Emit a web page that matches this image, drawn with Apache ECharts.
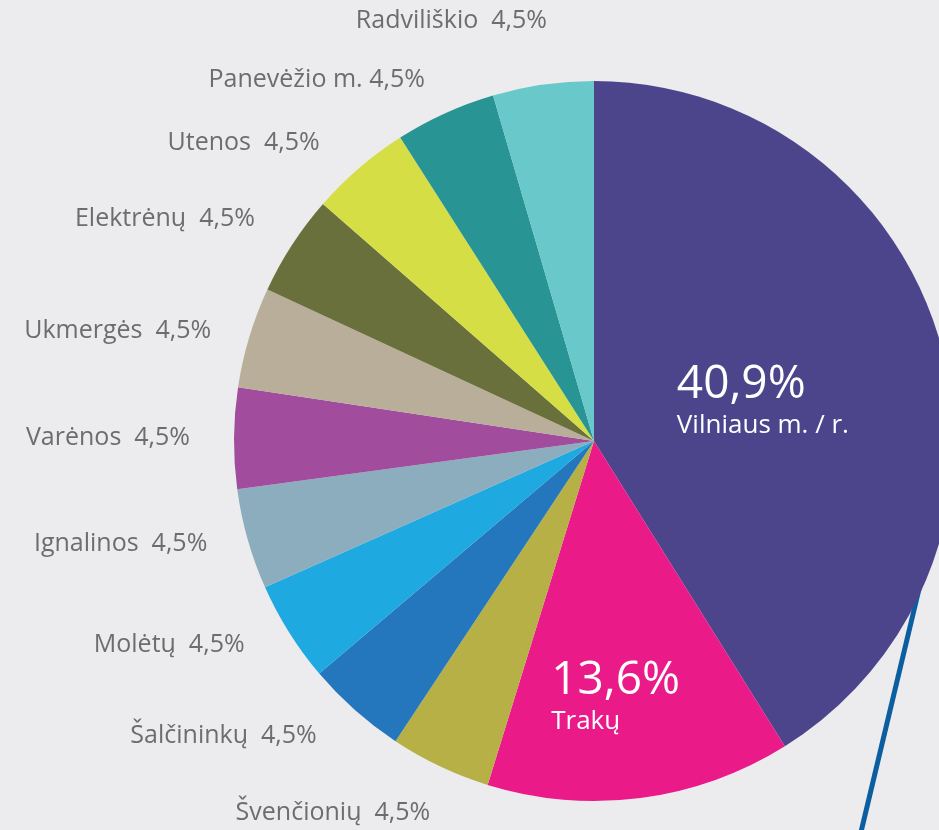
<!DOCTYPE html>
<html>
<head>
<meta charset="utf-8">
<script src="https://cdn.jsdelivr.net/npm/echarts@6/dist/echarts.min.js"></script>
<style>
  html, body { margin: 0; padding: 0; background: #ececee; }
  #main { width: 939px; height: 830px; }
</style>
</head>
<body>
<div id="main"></div>
<script>
// rajonai, pradedant nuo viršaus pagal laikrodžio rodyklę
const names = ['Vilniaus m. / r.', 'Trakų', 'Švenčionių', 'Šalčininkų', 'Molėtų', 'Ignalinos',
  'Varėnos', 'Ukmergės', 'Elektrėnų', 'Utenos', 'Panevėžio m.', 'Radviliškio'];
const values = [40.9, 13.6, 4.5, 4.5, 4.5, 4.5, 4.5, 4.5, 4.5, 4.5, 4.5, 4.5];
const colors = ['#4d458c', '#ea1a89', '#b7b046', '#2476bd', '#1fa9e1', '#8badbd',
  '#a14c9c', '#b8ae99', '#6a703b', '#d5df45', '#289594', '#69c8c9'];

// label placement tweaks: [labelLine length, length2, distance]
const labelTweak = {
  'Švenčionių': [51, 0, -12],
  'Šalčininkų': [35, 10, 5],
  'Molėtų': [23, 20, 5],
  'Ignalinos': [18, 18, 5],
  'Varėnos': [29, 10, 5],
  'Ukmergės': [23, 11, 5],
  'Elektrėnų': [48, 0, -3],
  'Utenos': [33, 13, 5],
  'Panevėžio m.': [37, 0, 5],
  'Radviliškio': [64, 0, -13]
};

const fmt = v => v.toFixed(1).replace('.', ',') + '%';

const chart = echarts.init(document.getElementById('main'), null, { renderer: 'canvas' });

const bigLabel = offset => ({
  show: true,
  position: 'inside',
  offset: offset,
  formatter: p => '{p|' + fmt(p.value) + '}\n{n|' + p.name + '}',
  rich: {
    p: { fontSize: 46, color: '#fff', fontFamily: 'Open Sans', align: 'left', lineHeight: 54 },
    n: { fontSize: 26, color: '#fff', fontFamily: 'Open Sans', align: 'left', lineHeight: 28 }
  }
});

const seriesData = names.map((n, i) => {
  let item = { name: n, value: values[i], itemStyle: { color: colors[i] } };
  if (i == 0) {
    item.label = bigLabel([-7, 8]);
  } else if (i == 1) {
    item.label = bigLabel([-2, 72]);
  } else if (labelTweak[n]) {
    let t = labelTweak[n];
    item.labelLine = { length: t[0], length2: t[1] };
    item.label = { distanceToLabelLine: t[2] };
  }
  return item;
});

const option = {
  backgroundColor: '#ececee',
  animation: false,
  graphic: [{
    type: 'line',
    z: 0,
    shape: { x1: 920, y1: 585, x2: 861, y2: 832 },
    style: { stroke: '#0b5ea0', lineWidth: 5 }
  }],
  series: [{
    type: 'pie',
    z: 2,
    center: [594, 441],
    radius: 360,
    startAngle: 90,
    clockwise: true,
    avoidLabelOverlap: false,
    itemStyle: { borderWidth: 0 },
    label: {
      show: true,
      position: 'outside',
      color: '#6d6d6d',
      fontSize: 25,
      fontFamily: 'Open Sans',
      formatter: p => p.name + (p.name.endsWith('.') ? ' ' : '  ') + fmt(p.value)
    },
    labelLine: { show: false, length: 25, length2: 0 },
    emphasis: { disabled: true },
    data: seriesData
  }]
};

chart.setOption(option);
</script>
</body>
</html>
